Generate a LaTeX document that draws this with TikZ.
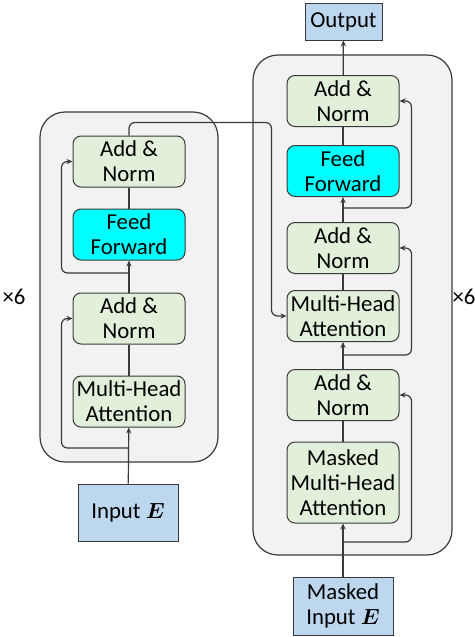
\documentclass[tikz,border=0pt]{standalone}
\usepackage{fontspec}
\setmainfont{Carlito}
\usepackage{bm}
\usetikzlibrary{arrows.meta,calc}

\definecolor{blockgreen}{HTML}{E2EFDA}
\definecolor{stackgray}{HTML}{F2F2F2}
\definecolor{inputblue}{HTML}{BDD7EE}
\definecolor{linegray}{HTML}{3A3A3A}
\definecolor{ffcyan}{HTML}{00FFFF}

\begin{document}
\begin{tikzpicture}[x=0.5pt,y=-0.5pt,font=\fontsize{11.4}{12.5}\selectfont]
            \useasboundingbox (0,0) rectangle (475,637);

            % the two stacks
            \draw[fill=stackgray,draw=linegray,line width=0.6pt,rounded corners=12.5pt] (40,112) rectangle (218,462);
            \draw[fill=stackgray,draw=linegray,line width=0.6pt,rounded corners=12.5pt] (253,55) rectangle (452,555);
            \node (encn) at (14,297) {×6};
            \node (decn) at (464,297) {×6};

            \begin{scope}[every node/.style={draw=linegray,fill=blockgreen,rounded corners=4pt,
                          align=center,minimum width=56pt,minimum height=25.5pt,inner sep=1pt,line width=0.5pt}]
                \node (mha) at (129,401.5) {Multi-Head\\Attention};
                \node (an1) at (129,318.5) {Add \&\\Norm};
                \node[fill=ffcyan] (ff) at (129,234.5) {Feed\\Forward};
                \node (an2) at (129,161.5) {Add \&\\Norm};

                \node[minimum height=40.5pt] (dmmha) at (343,482.5) {Masked\\Multi-Head\\Attention};
                \node (dan1) at (343,395) {Add \&\\Norm};
                \node (dmha) at (343,316) {Multi-Head\\Attention};
                \node (dan2) at (343,248) {Add \&\\Norm};
                \node[fill=ffcyan] (dff) at (343,171) {Feed\\Forward};
                \node (dan3) at (343,101) {Add \&\\Norm};
            \end{scope}

            \begin{scope}[every node/.style={draw=linegray,fill=inputblue,align=center,inner sep=1pt,line width=0.5pt}]
                \node[minimum width=50pt,minimum height=28.5pt] (inp) at (128,512.5) {Input $\bm E$};
                \node[minimum width=50pt,minimum height=29pt] (dinp) at (343,606) {Masked\\Input $\bm E$};
                \node[minimum width=38.5pt,minimum height=18.5pt] (out) at (343.5,21.5) {Output};
            \end{scope}

            \coordinate (l1) at (129,448);
            \coordinate (l2) at (129,273);
            \coordinate (r1) at (343,542);
            \coordinate (r2) at (343,355);
            \coordinate (r3) at (343,208);

            \begin{scope}[>={Stealth[length=3pt,width=2.6pt]},
                          every edge/.style={draw=linegray,line width=0.6pt}]
                \path [->] (inp) edge (mha);
                \path [-] (mha) edge (an1);
                \path [->] (an1) edge (ff);
                \path [-] (ff) edge (an2);

                \path [->] (dinp) edge (dmmha);
                \path [-] (dmmha) edge (dan1);
                \path [->] (dan1) edge (dmha);
                \path [-] (dmha) edge (dan2);
                \path [->] (dan2) edge (dff);
                \path [-] (dff) edge (dan3);
                \path [->] (dan3) edge (out);
            \end{scope}

            % residual paths
            \begin{scope}[>={Stealth[length=3pt,width=2.6pt]},draw=linegray,line width=0.6pt,rounded corners=3pt]
                \draw[->] (l1) -| ($(an1.west)+(-11,0)$) -- (an1.west);
                \draw[->] (l2) -| ($(an2.west)+(-11,0)$) -- (an2.west);
                \draw[->] (r1) -| ($(dan1.east)+(12,0)$) -- (dan1.east);
                \draw[->] (r2) -| ($(dan2.east)+(12,0)$) -- (dan2.east);
                \draw[->] (r3) -| ($(dan3.east)+(12,0)$) -- (dan3.east);
                \draw[->] (an2.north) -- ++(0,-13) -| ($(dmha.west)+(-15,0)$) -- (dmha.west);
            \end{scope}
\end{tikzpicture}
\end{document}
